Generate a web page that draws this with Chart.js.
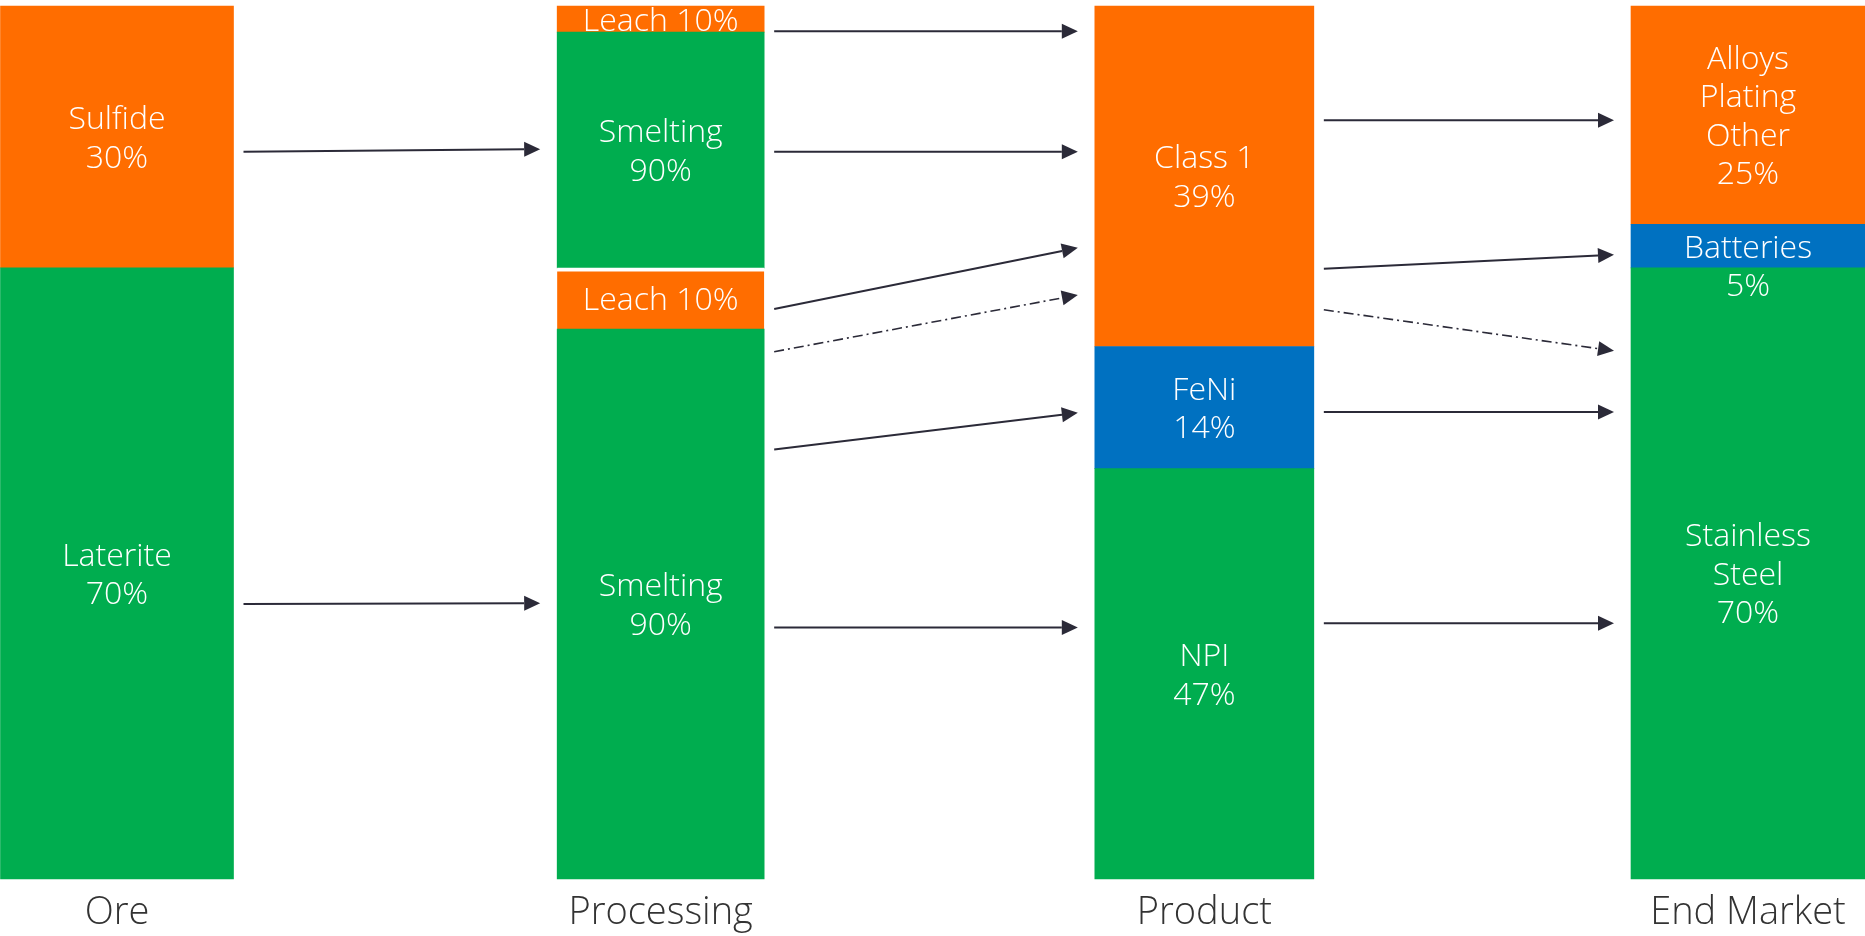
<!DOCTYPE html>
<html>
<head>
<meta charset="utf-8">
<script src="https://cdn.jsdelivr.net/npm/chart.js@4.4.1/dist/chart.umd.min.js"></script>
<style>
  html, body { margin: 0; padding: 0; background: #fff; }
  #wrap { width: 1865px; height: 936px; position: relative; }
</style>
</head>
<body>
<div id="wrap"><canvas id="flow"></canvas></div>
<script>
// --- Data: share of total (%), segments listed bottom -> top ---
const stages = ['Ore', 'Processing', 'Product', 'End Market'];

const oreLabels = ['Laterite\n70%', 'Sulfide\n30%'];
const oreShares = [70, 30];

const processingLabels = ['Smelting\n90%', 'Leach 10%', 'Smelting\n90%', 'Leach 10%'];
const processingShares = [63, 7, 27, 3];

const productLabels = ['NPI\n47%', 'FeNi\n14%', 'Class 1\n39%'];
const productShares = [47, 14, 39];

const marketLabels = ['Stainless\nSteel\n70%', 'Batteries\n5%', 'Alloys\nPlating\nOther\n25%'];
const marketShares = [70, 5, 25];

// Flows: source stage index, level at start / end (% of the stack), dash-dot?
const flowStage  = [0, 0, 1, 1, 1, 1, 1, 1, 2, 2, 2, 2, 2];
const flowStart  = [83.3, 31.5, 97.1, 83.3, 65.3, 60.4, 49.2, 28.8, 86.9, 69.9, 65.2, 53.5, 29.3];
const flowEnd    = [83.6, 31.6, 97.1, 83.3, 72.3, 66.9, 53.4, 28.8, 86.9, 71.5, 60.5, 53.5, 29.3];
const flowDashed = [false, false, false, false, false, true, false, false, false, false, true, false, false];

// --- Styling ---
const ORANGE = '#FF6D00';
const GREEN  = '#00AD4F';
const BLUE   = '#0071C1';
const ARROW  = '#2B2A38';
const FONT   = '"Open Sans", "Liberation Sans", sans-serif';

const segColors = [
  [GREEN, ORANGE],
  [GREEN, ORANGE, GREEN, ORANGE],
  [GREEN, BLUE, ORANGE],
  [GREEN, BLUE, ORANGE],
];
const barWidths = [233, 207, 219, 234];

const stageLabels = [oreLabels, processingLabels, productLabels, marketLabels];
const stageShares = [oreShares, processingShares, productShares, marketShares];

// one dataset per segment, stacked in its own stage column
const datasets = [];
stageShares.forEach((shares, s) => {
  shares.forEach((v, k) => {
    datasets.push({
      label: stageLabels[s][k].replace(/\n/g, ' '),
      segLabel: stageLabels[s][k],
      stageIndex: s,
      data: stages.map((_, i) => (i === s ? v : null)),
      backgroundColor: segColors[s][k],
      barThickness: barWidths[s],
      borderWidth: 0,
      clip: false,
    });
  });
});
// white gap between the sulfide route and the laterite route in Processing
datasets[3].borderWidth = { top: 4 };
datasets[3].borderColor = '#ffffff';

function stageBar(chart, s) {
  for (let d = 0; d < chart.data.datasets.length; d++) {
    if (chart.data.datasets[d].stageIndex === s) return chart.getDatasetMeta(d).data[s];
  }
  return null;
}

// --- Segment labels (white text inside each bar piece) ---
const segmentLabels = {
  id: 'segmentLabels',
  afterDatasetsDraw(chart) {
    const ctx = chart.ctx;
    const size = 32, lh = 38.5, capH = 23;
    ctx.save();
    ctx.font = `300 ${size}px ${FONT}`;
    ctx.fillStyle = '#ffffff';
    ctx.textAlign = 'center';
    ctx.textBaseline = 'alphabetic';
    chart.data.datasets.forEach((ds, d) => {
      const el = chart.getDatasetMeta(d).data[ds.stageIndex];
      if (!el) return;
      const lines = ds.segLabel.split('\n');
      const top = Math.min(el.y, el.base), bottom = Math.max(el.y, el.base);
      const mid = (top + bottom) / 2;
      const tooTall = lines.length * lh > bottom - top;
      lines.forEach((t, k) => {
        const c = tooTall ? mid + k * lh : mid + (k - (lines.length - 1) / 2) * lh;
        ctx.fillText(t, el.x, c + capH / 2);
      });
    });
    ctx.restore();
  },
};

// --- Flow arrows between stage columns ---
const flowArrows = {
  id: 'flowArrows',
  afterDatasetsDraw(chart) {
    const ctx = chart.ctx;
    const y = chart.scales.y;
    const gapStart = 10, gapEnd = 17, headLen = 16, headHalf = 7.5;
    ctx.save();
    flowStage.forEach((s, i) => {
      const a = stageBar(chart, s), b = stageBar(chart, s + 1);
      if (!a || !b) return;
      const x0 = a.x + a.width / 2 + gapStart;
      const x1 = b.x - b.width / 2 - gapEnd;
      const y0 = y.getPixelForValue(flowStart[i]);
      const y1 = y.getPixelForValue(flowEnd[i]);
      const ang = Math.atan2(y1 - y0, x1 - x0);
      const bx = x1 - headLen * Math.cos(ang), by = y1 - headLen * Math.sin(ang);

      ctx.strokeStyle = ARROW;
      ctx.lineWidth = flowDashed[i] ? 1.6 : 2;
      ctx.setLineDash(flowDashed[i] ? [10, 4, 2, 4] : []);
      ctx.beginPath();
      ctx.moveTo(x0, y0);
      ctx.lineTo(bx, by);
      ctx.stroke();

      ctx.setLineDash([]);
      ctx.fillStyle = ARROW;
      ctx.beginPath();
      ctx.moveTo(x1, y1);
      ctx.lineTo(bx + headHalf * Math.sin(ang), by - headHalf * Math.cos(ang));
      ctx.lineTo(bx - headHalf * Math.sin(ang), by + headHalf * Math.cos(ang));
      ctx.closePath();
      ctx.fill();
    });
    ctx.restore();
  },
};

new Chart(document.getElementById('flow'), {
  type: 'bar',
  data: { labels: stages, datasets },
  options: {
    responsive: true,
    maintainAspectRatio: false,
    animation: false,
    events: [],
    layout: { padding: { top: 6, left: 117, right: 117, bottom: 0 } },
    plugins: {
      legend: { display: false },
      tooltip: { enabled: false },
    },
    scales: {
      x: {
        stacked: true,
        offset: false,
        grid: { display: false, drawTicks: false },
        border: { display: false },
        ticks: {
          color: '#333333',
          font: { family: FONT, size: 38, weight: '300' },
          padding: 11,
          maxRotation: 0,
          autoSkip: false,
        },
        afterFit: axis => { axis.height = 57; },
      },
      y: { stacked: true, display: false, min: 0, max: 100 },
    },
  },
  plugins: [segmentLabels, flowArrows],
});
</script>
</body>
</html>
